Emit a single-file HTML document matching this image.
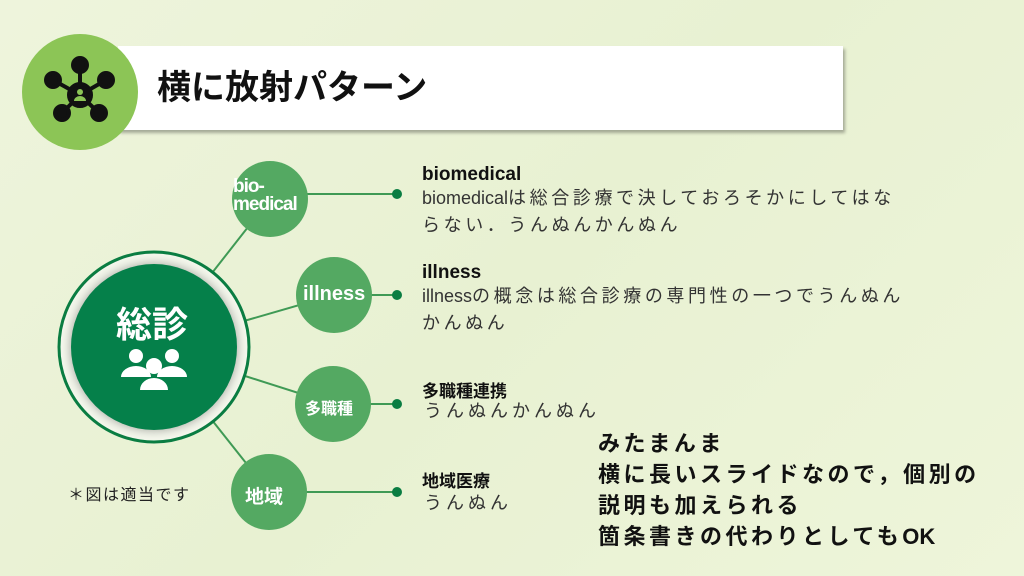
<!DOCTYPE html>
<html><head><meta charset="utf-8"><style>
body{margin:0;width:1024px;height:576px;overflow:hidden;background:linear-gradient(135deg,#eef4dc,#e8f1d2 50%,#eef5da);font-family:"Liberation Sans","Noto Sans CJK JP",sans-serif;position:relative}
.t{position:absolute;color:#222;white-space:nowrap}
.b{font-weight:bold;color:#111}
.s{color:#333;font-size:18px;letter-spacing:3.6px}
.l{letter-spacing:0}
</style></head><body>
<div style="position:absolute;left:118px;top:46px;width:725px;height:84px;background:#fff;box-shadow:2px 3px 3px rgba(0,0,0,0.3)"></div>
<div class="t b" style="left:157px;top:68px;font-size:34px;line-height:40px">横に放射パターン</div>
<svg style="position:absolute;left:0;top:0" width="1024" height="576">
<circle cx="80" cy="92" r="58" fill="#8cc556"/>
<g stroke="#111" stroke-width="4" fill="#111">
<line x1="80" y1="95" x2="80" y2="65"/><line x1="80" y1="95" x2="53" y2="80"/><line x1="80" y1="95" x2="106" y2="80"/><line x1="80" y1="95" x2="62" y2="113"/><line x1="80" y1="95" x2="99" y2="113"/>
<circle cx="80" cy="65" r="7"/><circle cx="53" cy="80" r="7"/><circle cx="106" cy="80" r="7"/><circle cx="62" cy="113" r="7"/><circle cx="99" cy="113" r="7"/>
<circle cx="80" cy="95" r="11"/></g>
<circle cx="80" cy="92" r="3" fill="#8cc556"/><path d="M74 101 a6 5 0 0 1 12 0z" fill="#8cc556"/>
<g stroke="#3f9a55" stroke-width="2">
<line x1="154" y1="347" x2="270" y2="199"/><line x1="154" y1="347" x2="334" y2="295"/><line x1="154" y1="347" x2="333" y2="404"/><line x1="154" y1="347" x2="269" y2="492"/>
<line x1="300" y1="194" x2="397" y2="194"/><line x1="365" y1="295" x2="397" y2="295"/><line x1="365" y1="404" x2="397" y2="404"/><line x1="300" y1="492" x2="397" y2="492"/>
</g>
<g fill="#0a7d42"><circle cx="397" cy="194" r="5"/><circle cx="397" cy="295" r="5"/><circle cx="397" cy="404" r="5"/><circle cx="397" cy="492" r="5"/></g>
<circle cx="154" cy="347" r="95" fill="#f4f7ec" stroke="#0a7d42" stroke-width="3"/>
<circle cx="154" cy="347" r="83" fill="#05804a" style="filter:drop-shadow(0 0 5px rgba(0,0,0,0.35))"/>
<g fill="#54a962"><circle cx="270" cy="199" r="38"/><circle cx="334" cy="295" r="38"/><circle cx="333" cy="404" r="38"/><circle cx="269" cy="492" r="38"/></g>
<g fill="#fff"><circle cx="136" cy="356" r="7"/><circle cx="172" cy="356" r="7"/><circle cx="154" cy="366" r="8"/>
<path d="M121 377 a15 11 0 0 1 30 0z M157 377 a15 11 0 0 1 30 0z"/><path d="M140 390 a14 12 0 0 1 28 0z"/></g>
</svg>
<div class="t b" style="left:116px;top:305px;font-size:36px;color:#fff;line-height:40px">総診</div>
<div class="t b" style="left:233px;top:178px;font-size:19px;color:#fff;line-height:18px;letter-spacing:-1px">bio-<br>medical</div>
<div class="t b" style="left:303px;top:283px;font-size:20px;color:#fff">illness</div>
<div class="t" style="left:305px;top:395px;font-size:16px;color:#fff;font-weight:bold">多職種</div>
<div class="t" style="left:245px;top:482px;font-size:19px;color:#fff;font-weight:bold">地域</div>
<div class="t" style="left:68px;top:481px;font-size:16px;letter-spacing:1.5px">＊図は適当です</div>
<div class="t b" style="left:422px;top:164px;font-size:19px">biomedical</div>
<div class="t s" style="left:422px;top:185px;line-height:27px"><span class="l">biomedical</span>は総合診療で決しておろそかにしてはな<br>らない．うんぬんかんぬん</div>
<div class="t b" style="left:422px;top:262px;font-size:19px">illness</div>
<div class="t s" style="left:422px;top:283px;line-height:27px"><span class="l">illness</span>の概念は総合診療の専門性の一つでうんぬん<br>かんぬん</div>
<div class="t b" style="left:422px;top:377px;font-size:17px">多職種連携</div>
<div class="t s" style="left:424px;top:397px;letter-spacing:4px">うんぬんかんぬん</div>
<div class="t b" style="left:422px;top:467px;font-size:17px">地域医療</div>
<div class="t s" style="left:424px;top:489px;letter-spacing:4px">うんぬん</div>
<div class="t b" style="left:598px;top:428px;font-size:22px;line-height:31px;letter-spacing:3.5px">みたまんま<br>横に長いスライドなので，個別の<br>説明も加えられる<br>箇条書きの代わりとしても<span class="l">OK</span></div>
</body></html>
